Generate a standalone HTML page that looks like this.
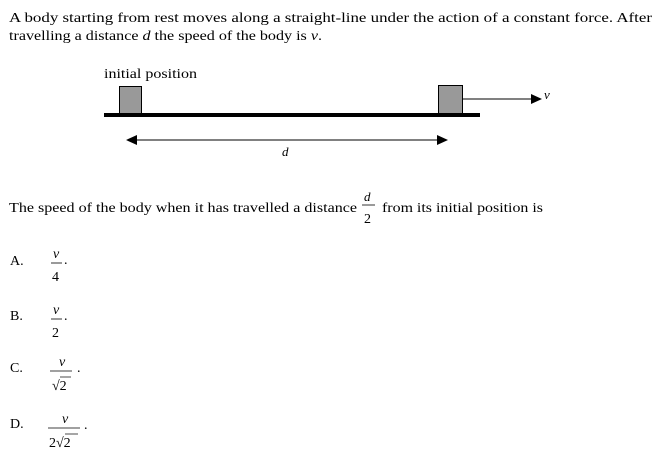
<!DOCTYPE html>
<html><head><meta charset="utf-8"><style>
html,body{margin:0;padding:0;background:#fff;}
svg{display:block;font-family:"Liberation Serif",serif;}
</style></head><body>
<svg width="665" height="452" viewBox="0 0 665 452" xmlns="http://www.w3.org/2000/svg">
<g font-size="14" fill="#000">
<text x="9" y="22" textLength="643" lengthAdjust="spacingAndGlyphs">A body starting from rest moves along a straight-line under the action of a constant force.  After</text>
<text x="9" y="40" textLength="313" lengthAdjust="spacingAndGlyphs">travelling a distance <tspan font-style="italic">d</tspan> the speed of the body is <tspan font-style="italic">v</tspan>.</text>
<text x="104" y="78" textLength="93" lengthAdjust="spacingAndGlyphs">initial position</text>
<text x="9" y="212" textLength="348" lengthAdjust="spacingAndGlyphs">The speed of the body when it has travelled a distance</text>
<text x="382" y="212" textLength="161" lengthAdjust="spacingAndGlyphs">from its initial position is</text>
</g>
<!-- diagram -->
<rect x="104" y="113" width="376" height="4" fill="#000"/>
<rect x="119.5" y="86.5" width="22" height="27" fill="#999" stroke="#000"/>
<rect x="438.5" y="85.5" width="24" height="28" fill="#999" stroke="#000"/>
<line x1="463" y1="99" x2="532" y2="99" stroke="#000" stroke-width="1"/>
<polygon points="531,94 542,99 531,104" fill="#000"/>
<text x="544" y="99" font-size="13" font-style="italic">v</text>
<line x1="134" y1="140" x2="440" y2="140" stroke="#000" stroke-width="1"/>
<polygon points="126,140 137,135 137,145" fill="#000"/>
<polygon points="448,140 437,135 437,145" fill="#000"/>
<text x="282" y="156" font-size="13" font-style="italic">d</text>
<!-- d/2 -->
<text x="364" y="201" font-size="13" font-style="italic">d</text>
<line x1="362" y1="205" x2="375" y2="205" stroke="#000" stroke-width="0.8"/>
<text x="364" y="223" font-size="14">2</text>
<!-- options -->
<g font-size="14">
<text x="10" y="265">A.</text>
<text x="10" y="320">B.</text>
<text x="10" y="372">C.</text>
<text x="10" y="428">D.</text>
</g>
<g font-size="14">
<text x="53" y="258" font-style="italic">v</text>
<line x1="51" y1="263" x2="62" y2="263" stroke="#000" stroke-width="0.8"/>
<text x="52" y="281">4</text>
<text x="64" y="264">.</text>

<text x="53" y="314" font-style="italic">v</text>
<line x1="51" y1="319" x2="62" y2="319" stroke="#000" stroke-width="0.8"/>
<text x="52" y="337">2</text>
<text x="64" y="320">.</text>

<text x="59" y="366" font-style="italic">v</text>
<line x1="50" y1="371" x2="72" y2="371" stroke="#000" stroke-width="0.8"/>
<text x="52" y="390">√2</text>
<line x1="60" y1="377" x2="71" y2="377" stroke="#000" stroke-width="0.7"/>
<text x="77" y="372">.</text>

<text x="62" y="423" font-style="italic">v</text>
<line x1="48" y1="428" x2="80" y2="428" stroke="#000" stroke-width="0.8"/>
<text x="49" y="447">2√2</text>
<line x1="65" y1="434" x2="78" y2="434" stroke="#000" stroke-width="0.7"/>
<text x="84" y="429">.</text>
</g>
</svg>
</body></html>
